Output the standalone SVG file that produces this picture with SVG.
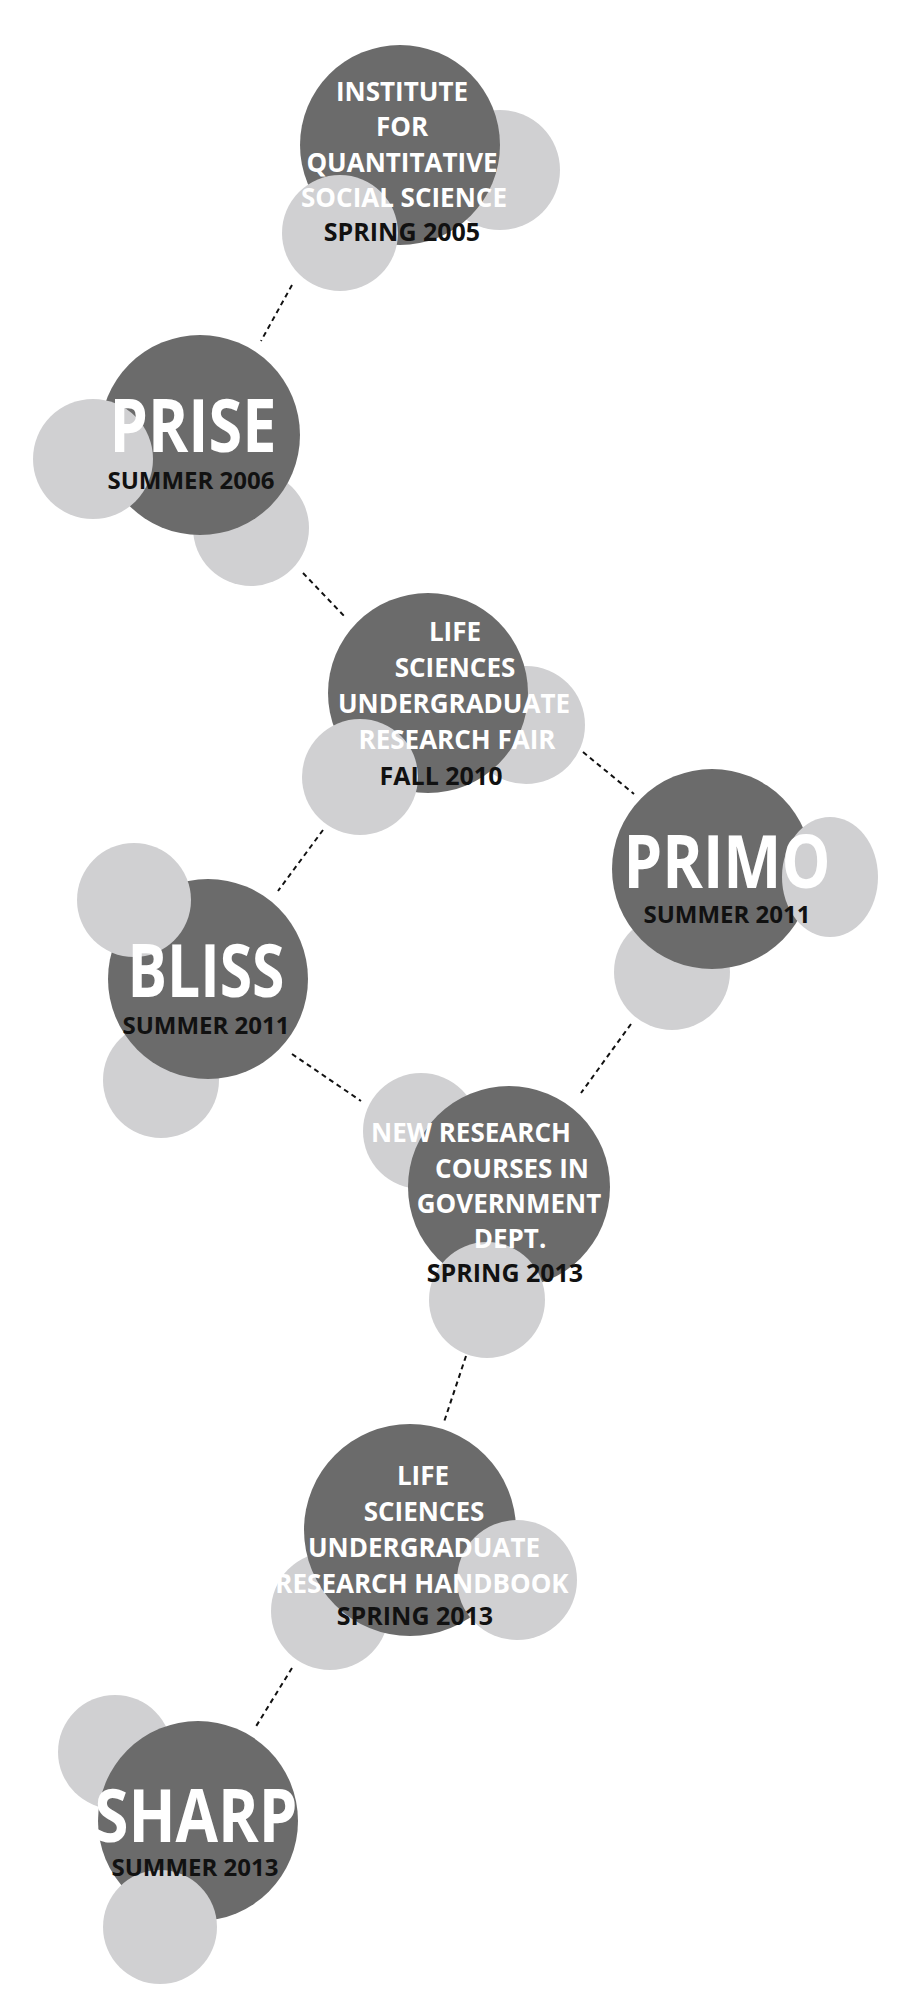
<svg xmlns="http://www.w3.org/2000/svg" width="908" height="2000" viewBox="0 0 908 2000">
<style>
.bg{fill:#ffffff}
.dark{fill:#6b6b6b}
.light{fill:#d0d0d2}
.t{font-family:"Open Sans","Noto Sans","Liberation Sans",sans-serif;font-weight:700;text-anchor:middle;fill:#ffffff}
.m{font-size:26px}
.big{font-size:74px}
.d{font-family:"Open Sans","Noto Sans","Liberation Sans",sans-serif;font-weight:700;text-anchor:middle;fill:#111111;font-size:25px}
.s{font-size:24px}
.c{stroke:#111111;stroke-width:2;stroke-dasharray:5 4;fill:none}
</style>
<rect class="bg" x="0" y="0" width="908" height="2000"/>
<g id="connectors">
<line class="c" x1="292" y1="285" x2="261" y2="341"/>
<line class="c" x1="303" y1="573" x2="345" y2="617"/>
<line class="c" x1="583" y1="752" x2="634" y2="794"/>
<line class="c" x1="323" y1="830" x2="278" y2="891"/>
<line class="c" x1="292" y1="1054" x2="361" y2="1101"/>
<line class="c" x1="631" y1="1024" x2="581" y2="1093"/>
<line class="c" x1="466" y1="1356" x2="444" y2="1422"/>
<line class="c" x1="292" y1="1668" x2="255" y2="1728"/>
</g>
<g id="iqss">
<circle class="light" cx="500" cy="170" r="60"/>
<circle class="dark" cx="400" cy="145" r="100"/>
<circle class="light" cx="340" cy="233" r="58"/>
<text class="t m" x="402" y="101">INSTITUTE</text>
<text class="t m" x="402" y="136">FOR</text>
<text class="t m" x="402" y="172">QUANTITATIVE</text>
<text class="t m" x="404" y="207">SOCIAL SCIENCE</text>
<text class="d" x="402" y="241">SPRING 2005</text>
</g>
<g id="prise">
<circle class="light" cx="251" cy="528" r="58"/>
<circle class="dark" cx="200" cy="435" r="100"/>
<circle class="light" cx="93" cy="459" r="60"/>
<text class="t big" x="193" y="452" textLength="167" lengthAdjust="spacingAndGlyphs">PRISE</text>
<text class="d s" x="191" y="489">SUMMER 2006</text>
</g>
<g id="fair">
<circle class="light" cx="526" cy="725" r="59"/>
<circle class="dark" cx="428" cy="693" r="100"/>
<circle class="light" cx="360" cy="777" r="58"/>
<text class="t m" x="455" y="641">LIFE</text>
<text class="t m" x="455" y="677">SCIENCES</text>
<text class="t m" x="454" y="713">UNDERGRADUATE</text>
<text class="t m" x="457" y="749">RESEARCH FAIR</text>
<text class="d" x="441" y="785">FALL 2010</text>
</g>
<g id="primo">
<circle class="light" cx="672" cy="972" r="58"/>
<circle class="dark" cx="712" cy="869" r="100"/>
<ellipse class="light" cx="830" cy="877" rx="48" ry="60"/>
<text class="t big" x="727" y="888" textLength="207" lengthAdjust="spacingAndGlyphs">PRIMO</text>
<text class="d s" x="727" y="923">SUMMER 2011</text>
</g>
<g id="bliss">
<circle class="light" cx="161" cy="1080" r="58"/>
<circle class="dark" cx="208" cy="979" r="100"/>
<circle class="light" cx="134" cy="900" r="57"/>
<text class="t big" x="206" y="997" textLength="157" lengthAdjust="spacingAndGlyphs">BLISS</text>
<text class="d s" x="206" y="1034">SUMMER 2011</text>
</g>
<g id="newresearch">
<circle class="light" cx="421" cy="1131" r="58"/>
<circle class="dark" cx="509" cy="1187" r="101"/>
<circle class="light" cx="487" cy="1300" r="58"/>
<text class="t m" x="471" y="1142">NEW RESEARCH</text>
<text class="t m" x="512" y="1178">COURSES IN</text>
<text class="t m" x="509" y="1213">GOVERNMENT</text>
<text class="t m" x="510" y="1248">DEPT.</text>
<text class="d" x="505" y="1282">SPRING 2013</text>
</g>
<g id="handbook">
<circle class="light" cx="330" cy="1611" r="59"/>
<circle class="dark" cx="410" cy="1530" r="106"/>
<circle class="light" cx="517" cy="1580" r="60"/>
<text class="t m" x="423" y="1485">LIFE</text>
<text class="t m" x="424" y="1521">SCIENCES</text>
<text class="t m" x="424" y="1557">UNDERGRADUATE</text>
<text class="t m" x="422" y="1593">RESEARCH HANDBOOK</text>
<text class="d" x="415" y="1625">SPRING 2013</text>
</g>
<g id="sharp">
<circle class="light" cx="115" cy="1752" r="57"/>
<circle class="dark" cx="198" cy="1821" r="100"/>
<circle class="light" cx="160" cy="1927" r="57"/>
<text class="t big" x="196" y="1842" textLength="203" lengthAdjust="spacingAndGlyphs">SHARP</text>
<text class="d s" x="195" y="1876">SUMMER 2013</text>
</g>
</svg>
